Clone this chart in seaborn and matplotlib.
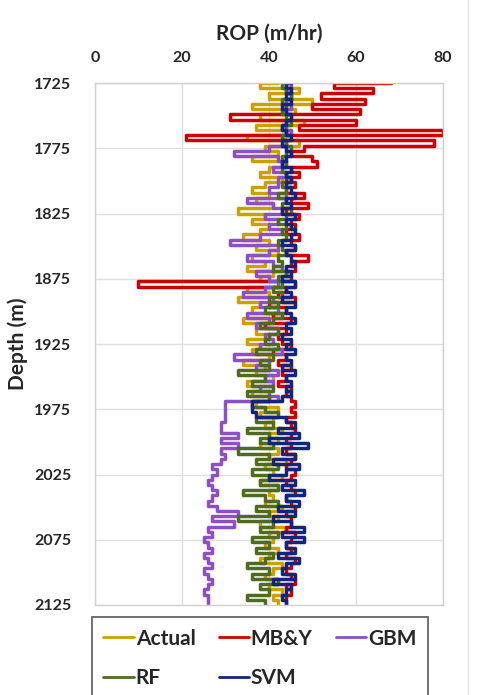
import numpy as np
import pandas as pd
import seaborn as sns
import matplotlib.pyplot as plt
from matplotlib.lines import Line2D

# Depth grid (m), one reading every 4 m
depth = list(range(1725, 2126, 4))

# ROP (m/hr)
actual = [42, 38, 47, 40, 50, 36, 46, 38, 48, 37,
          45, 35, 47, 39, 42, 36, 44, 40, 38, 43,
          39, 36, 40, 37, 41, 33, 39, 36, 40, 38,
          34, 40, 37, 42, 36, 39, 35, 41, 38, 46,
          35, 40, 33, 38, 36, 41, 34, 39, 37, 40,
          35, 38, 36, 40, 34, 39, 37, 41, 35, 38,
          36, 40, 37, 42, 38, 41, 39, 43, 40, 42,
          38, 42, 40, 44, 39, 41, 43, 38, 42, 40,
          41, 39, 43, 40, 42, 38, 44, 40, 41, 39,
          42, 40, 38, 43, 41, 39, 42, 40, 43, 41,
          42]
mby = [68, 55, 64, 52, 62, 50, 61, 31, 60, 47,
       80, 21, 78, 48, 45, 50, 51, 45, 47, 44,
       46, 44, 48, 45, 49, 44, 47, 45, 46, 44,
       47, 45, 46, 44, 49, 45, 46, 44, 45, 10,
       44, 42, 46, 40, 44, 41, 45, 39, 44, 42,
       43, 45, 41, 44, 42, 45, 43, 44, 42, 45,
       44, 45, 46, 45, 46, 44, 45, 46, 45, 44,
       45, 44, 46, 45, 44, 46, 45, 44, 45, 46,
       44, 45, 46, 44, 45, 45, 44, 46, 45, 44,
       45, 44, 46, 45, 44, 45, 46, 44, 45, 44,
       44]
gbm = [44, 45, 44, 45, 44, 45, 44, 45, 44, 44,
       45, 43, 44, 40, 32, 42, 43, 41, 44, 42,
       42, 40, 44, 35, 41, 43, 39, 42, 40, 43,
       38, 31, 42, 40, 35, 41, 43, 37, 40, 42,
       39, 34, 41, 38, 42, 35, 40, 37, 42, 39,
       41, 38, 43, 32, 40, 37, 42, 39, 41, 38,
       40, 42, 30, 30, 30, 30, 29, 29, 33, 29,
       33, 29, 30, 29, 27, 28, 27, 26, 27, 28,
       27, 26, 28, 33, 27, 32, 26, 27, 25, 26,
       27, 25, 26, 27, 25, 26, 27, 26, 25, 26,
       26]
rf = [44, 43, 44, 45, 43, 44, 43, 44, 45, 43,
      44, 43, 44, 45, 44, 43, 44, 43, 44, 45,
      43, 44, 42, 44, 43, 45, 44, 42, 44, 43,
      44, 42, 43, 44, 42, 43, 41, 44, 42, 43,
      41, 43, 40, 42, 39, 43, 41, 38, 42, 40,
      39, 42, 37, 41, 38, 40, 33, 39, 36, 41,
      35, 40, 36, 39, 42, 37, 41, 35, 40, 38,
      41, 33, 40, 37, 42, 36, 40, 38, 42, 34,
      39, 42, 37, 40, 33, 41, 38, 42, 36, 40,
      37, 41, 39, 35, 40, 36, 42, 38, 40, 35,
      39]
svm = [45, 44, 45, 44, 45, 43, 44, 45, 44, 43,
       44, 45, 43, 44, 45, 44, 43, 45, 44, 45,
       44, 45, 46, 44, 45, 43, 46, 44, 45, 46,
       45, 43, 46, 44, 45, 46, 44, 45, 43, 46,
       44, 45, 43, 46, 44, 45, 46, 44, 45, 43,
       45, 44, 46, 44, 45, 43, 46, 44, 45, 44,
       45, 43, 36, 36, 37, 44, 46, 42, 47, 40,
       49, 43, 46, 41, 47, 44, 40, 46, 43, 48,
       44, 47, 42, 46, 41, 45, 48, 43, 48, 44,
       46, 42, 47, 44, 43, 46, 41, 45, 44, 43,
       44]

models = ['Actual', 'MB&Y', 'GBM', 'RF', 'SVM']
colors = ['#CCA000', '#CC0000', '#8E4FC6', '#4E6B1F', '#13257A']
depth_ticks = [1725, 1775, 1825, 1875, 1925, 1975, 2025, 2075, 2125]

df = pd.concat([
    pd.DataFrame({'Depth': depth, 'ROP': vals, 'Model': name})
    for name, vals in zip(models, [actual, mby, gbm, rf, svm])
], ignore_index=True)

sns.set_style('white')
plt.rcParams['font.family'] = ['Lato', 'DejaVu Sans']
plt.rcParams['font.weight'] = 'bold'

fig = plt.figure(figsize=(4.79, 6.95), dpi=100)
ax = fig.add_axes([0.198, 0.1295, 0.727, 0.751])

# steps give the blocky log look of the original
sns.lineplot(data=df, x='ROP', y='Depth', hue='Model', hue_order=models,
             palette=colors, orient='y', estimator=None, sort=False,
             linewidth=2.5, drawstyle='steps-post', ax=ax)

ax.set_xlim(0, 80)
ax.set_ylim(2125, 1725)
ax.set_xticks([0, 20, 40, 60, 80])
ax.set_yticks(depth_ticks)
ax.xaxis.tick_top()
ax.xaxis.set_label_position('top')
ax.tick_params(axis='both', length=0, labelsize=11.5, colors='#262626')
ax.tick_params(axis='x', pad=13)
ax.tick_params(axis='y', pad=17)
for lab in ax.get_xticklabels() + ax.get_yticklabels():
    lab.set_fontweight('bold')
ax.grid(True, color='#E0E0E0', linewidth=1)
for s in ax.spines.values():
    s.set_color('#D0D0D0')
    s.set_linewidth(1)

ax.set_xlabel('ROP (m/hr)', fontsize=15, fontweight='bold', color='#262626', labelpad=8)
ax.set_ylabel('Depth (m)', fontsize=15, fontweight='bold', color='#262626', labelpad=4)

handles, labels = ax.get_legend_handles_labels()
ax.get_legend().remove()
# legend fills column by column, so reorder to read row by row
order = [0, 3, 1, 4, 2]
leg = fig.legend([handles[i] for i in order], [labels[i] for i in order],
                 loc='upper left', bbox_to_anchor=(0.192, 0.112),
                 ncol=3, frameon=True, fancybox=False, edgecolor='#404040',
                 prop={'size': 15, 'weight': 'bold'}, handlelength=1.45,
                 handletextpad=0.1, columnspacing=1.1, labelspacing=0.95,
                 borderpad=0.55, borderaxespad=0)
leg.get_frame().set_linewidth(1.3)
for h in leg.get_lines():
    h.set_linewidth(2)

# page border on the right
fig.add_artist(Line2D([0.977, 0.977], [0, 1], color='#E3E3E3', linewidth=1))

fig.savefig('out.png', dpi=100)
